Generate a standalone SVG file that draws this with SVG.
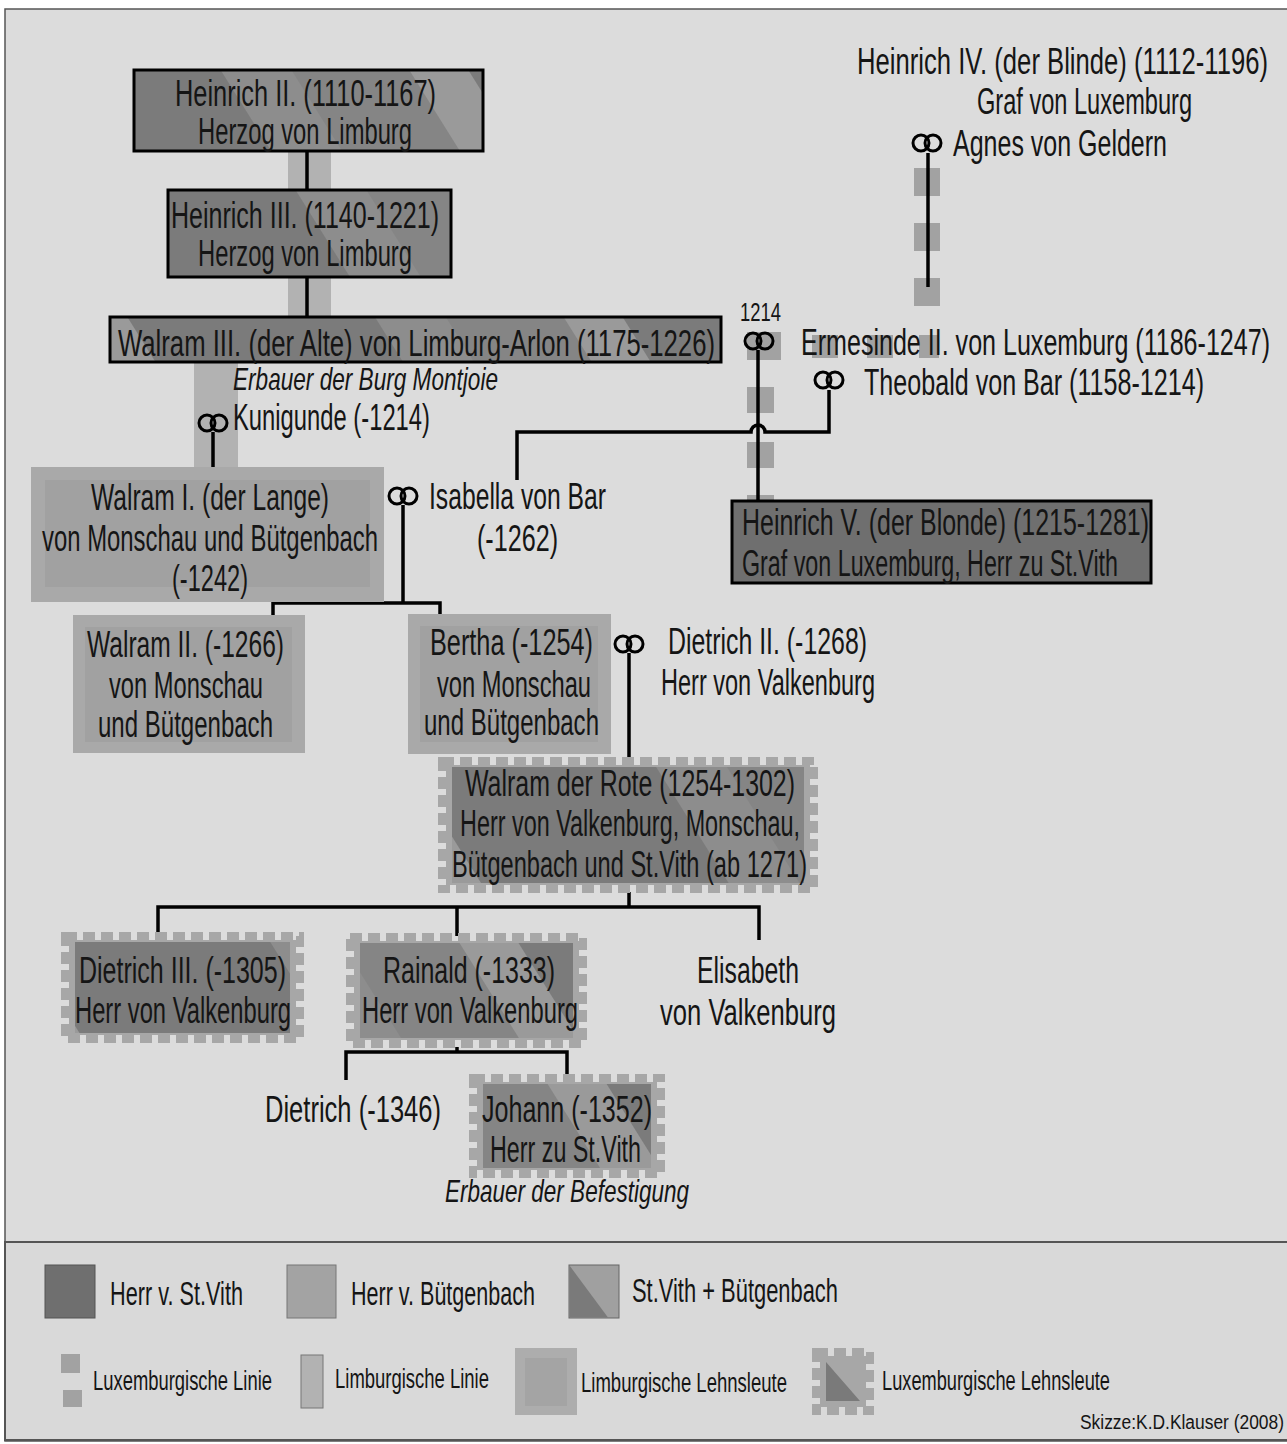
<svg xmlns="http://www.w3.org/2000/svg" width="1287" height="1444" viewBox="0 0 1287 1444">
<defs>
<style>
.t{font-family:"Liberation Sans Narrow","Liberation Sans",Arial,sans-serif;font-size:36px;fill:#151515}
.i{font-style:italic;font-size:32px}
.s25{font-size:25px}
.l1{font-size:33px}
.l2{font-size:27px}
.s20{font-size:20px}
.conn{stroke:#000;stroke-width:3.5;fill:none}
.ring{stroke:#000;stroke-width:3;fill:none}
.boxk{stroke:#000;stroke-width:3}
.teeth{fill:none;stroke:#a7a7a7;stroke-width:8;stroke-dasharray:12 6}
.band{fill:#a7a7a7}
.lux{fill:#a2a2a2}
.limb{fill:#b2b2b2}
.buet{fill:#a9a9a9}
.buetin{fill:#a1a1a1}
.vith{fill:#6f6f6f}
</style>
<pattern id="diag" patternUnits="userSpaceOnUse" width="420" height="20" patternTransform="rotate(-32)">
<rect x="0" y="0" width="420" height="20" fill="#7b7b7b"/>
<rect x="150" y="0" width="60" height="20" fill="#8d8d8d"/>
<rect x="210" y="0" width="100" height="20" fill="#858585"/>
<rect x="310" y="0" width="50" height="20" fill="#9a9a9a"/>
</pattern>
</defs>
<rect x="0" y="0" width="1287" height="1444" fill="#ffffff"/>
<rect x="5" y="9" width="1290" height="1432" fill="#dcdcdc" stroke="#555" stroke-width="1.5"/>

<g id="lines-decor">
<rect class="limb" x="288" y="151" width="43" height="40"/>
<rect class="limb" x="288" y="276" width="43" height="42"/>
<rect class="limb" x="194" y="362" width="44" height="106"/>
<rect class="lux" x="914" y="168" width="26" height="28"/>
<rect class="lux" x="914" y="223" width="26" height="28"/>
<rect class="lux" x="914" y="278" width="26" height="28"/>
<rect class="lux" x="747" y="332" width="34" height="28"/>
<rect class="lux" x="812" y="335" width="26" height="23"/>
<rect class="lux" x="867" y="335" width="26" height="23"/>
<rect class="lux" x="919" y="335" width="20" height="23"/>
<rect class="lux" x="747" y="387" width="27" height="26"/>
<rect class="lux" x="747" y="442" width="27" height="26"/>
<rect class="lux" x="747" y="495" width="27" height="8"/>
</g>

<g id="connectors">
<path class="conn" d="M307,151 V190"/>
<path class="conn" d="M307,277 V318"/>
<path class="conn" d="M213,432 V468"/>
<path class="conn" d="M928,153 V287"/>
<path class="conn" d="M758,350 V501"/>
<path class="conn" d="M517,480 V432 H751 A7,7 0 0 1 765,432 H829 V390"/>
<path class="conn" d="M403,505 V603"/>
<path class="conn" d="M273,618 V603 H440 V618"/>
<path class="conn" d="M629,653 V760"/>
<path class="conn" d="M629,892 V907"/>
<path class="conn" d="M158,936 V907 H759 V940"/>
<path class="conn" d="M457,907 V936"/>
<path class="conn" d="M457,1047 V1052"/>
<path class="conn" d="M346,1080 V1052 H567 V1080"/>
<g id="rings">
<circle class="ring" cx="207" cy="423" r="8"/><circle class="ring" cx="219" cy="423" r="8"/>
<circle class="ring" cx="921" cy="143" r="8"/><circle class="ring" cx="933" cy="143" r="8"/>
<circle class="ring" cx="753" cy="341" r="8"/><circle class="ring" cx="765" cy="341" r="8"/>
<circle class="ring" cx="823" cy="380" r="8"/><circle class="ring" cx="835" cy="380" r="8"/>
<circle class="ring" cx="397" cy="496" r="8"/><circle class="ring" cx="409" cy="496" r="8"/>
<circle class="ring" cx="623" cy="644" r="8"/><circle class="ring" cx="635" cy="644" r="8"/>
</g>
</g>

<g id="heinrich2">
<rect class="boxk" x="134" y="70" width="349" height="81" fill="url(#diag)"/>
<text class="t" x="175" y="106" textLength="261" lengthAdjust="spacingAndGlyphs">Heinrich II. (1110-1167)</text>
<text class="t" x="198" y="144" textLength="214" lengthAdjust="spacingAndGlyphs">Herzog von Limburg</text>
</g>
<g id="heinrich3">
<rect class="boxk" x="168" y="190" width="283" height="87" fill="url(#diag)"/>
<text class="t" x="171" y="228" textLength="268" lengthAdjust="spacingAndGlyphs">Heinrich III. (1140-1221)</text>
<text class="t" x="198" y="266" textLength="214" lengthAdjust="spacingAndGlyphs">Herzog von Limburg</text>
</g>
<g id="walram3">
<rect class="boxk" x="110" y="317" width="611" height="45" fill="url(#diag)"/>
<text class="t" x="118" y="356" textLength="597" lengthAdjust="spacingAndGlyphs">Walram III. (der Alte) von Limburg-Arlon (1175-1226)</text>
<text class="t i" x="233" y="390" textLength="265" lengthAdjust="spacingAndGlyphs">Erbauer der Burg Montjoie</text>
</g>
<g id="kunigunde">
<text class="t" x="233" y="430" textLength="197" lengthAdjust="spacingAndGlyphs">Kunigunde (-1214)</text>
</g>
<g id="heinrich4">
<text class="t" x="857" y="74" textLength="411" lengthAdjust="spacingAndGlyphs">Heinrich IV. (der Blinde) (1112-1196)</text>
<text class="t" x="977" y="114" textLength="215" lengthAdjust="spacingAndGlyphs">Graf von Luxemburg</text>
</g>
<g id="agnes">
<text class="t" x="953" y="156" textLength="214" lengthAdjust="spacingAndGlyphs">Agnes von Geldern</text>
</g>
<g id="ermesinde">
<text class="t s25" x="740" y="321" textLength="41" lengthAdjust="spacingAndGlyphs">1214</text>
<text class="t" x="801" y="355" textLength="469" lengthAdjust="spacingAndGlyphs">Ermesinde II. von Luxemburg (1186-1247)</text>
</g>
<g id="theobald">
<text class="t" x="864" y="395" textLength="340" lengthAdjust="spacingAndGlyphs">Theobald von Bar (1158-1214)</text>
</g>
<g id="heinrich5">
<rect class="boxk vith" x="732" y="501" width="419" height="82"/>
<text class="t" x="742" y="535" textLength="407" lengthAdjust="spacingAndGlyphs">Heinrich V. (der Blonde) (1215-1281)</text>
<text class="t" x="742" y="576" textLength="376" lengthAdjust="spacingAndGlyphs">Graf von Luxemburg, Herr zu St.Vith</text>
</g>
<g id="walram1">
<rect class="buet" x="31" y="467" width="353" height="135"/>
<rect class="buetin" x="45" y="480" width="325" height="107"/>
<text class="t" x="91" y="510" textLength="238" lengthAdjust="spacingAndGlyphs">Walram I. (der Lange)</text>
<text class="t" x="42" y="551" textLength="336" lengthAdjust="spacingAndGlyphs">von Monschau und Bütgenbach</text>
<text class="t" x="172" y="591" textLength="76" lengthAdjust="spacingAndGlyphs">(-1242)</text>
</g>
<g id="isabella">
<text class="t" x="429" y="509" textLength="177" lengthAdjust="spacingAndGlyphs">Isabella von Bar</text>
<text class="t" x="477" y="551" textLength="81" lengthAdjust="spacingAndGlyphs">(-1262)</text>
</g>
<g id="walram2">
<rect class="buet" x="73" y="615" width="232" height="138"/>
<rect class="buetin" x="85" y="627" width="207" height="115"/>
<text class="t" x="87" y="657" textLength="197" lengthAdjust="spacingAndGlyphs">Walram II. (-1266)</text>
<text class="t" x="109" y="698" textLength="154" lengthAdjust="spacingAndGlyphs">von Monschau</text>
<text class="t" x="98" y="737" textLength="175" lengthAdjust="spacingAndGlyphs">und Bütgenbach</text>
</g>
<g id="bertha">
<rect class="buet" x="408" y="614" width="203" height="140"/>
<rect class="buetin" x="420" y="626" width="178" height="116"/>
<text class="t" x="430" y="655" textLength="163" lengthAdjust="spacingAndGlyphs">Bertha (-1254)</text>
<text class="t" x="437" y="697" textLength="154" lengthAdjust="spacingAndGlyphs">von Monschau</text>
<text class="t" x="424" y="735" textLength="175" lengthAdjust="spacingAndGlyphs">und Bütgenbach</text>
</g>
<g id="dietrich2">
<text class="t" x="668" y="654" textLength="199" lengthAdjust="spacingAndGlyphs">Dietrich II. (-1268)</text>
<text class="t" x="661" y="695" textLength="214" lengthAdjust="spacingAndGlyphs">Herr von Valkenburg</text>
</g>
<g id="walramrote">
<rect class="teeth" x="442" y="761" width="372" height="128"/>
<rect class="band" x="446" y="765" width="364" height="120"/>
<rect x="452" y="767" width="352" height="116" fill="url(#diag)"/>
<text class="t" x="465" y="796" textLength="330" lengthAdjust="spacingAndGlyphs">Walram der Rote (1254-1302)</text>
<text class="t" x="460" y="836" textLength="340" lengthAdjust="spacingAndGlyphs">Herr von Valkenburg, Monschau,</text>
<text class="t" x="452" y="877" textLength="355" lengthAdjust="spacingAndGlyphs">Bütgenbach und St.Vith (ab 1271)</text>
</g>
<g id="dietrich3">
<rect class="teeth" x="65" y="936" width="235" height="103"/>
<rect class="band" x="69" y="940" width="227" height="95"/>
<rect x="75" y="942" width="215" height="91" fill="url(#diag)"/>
<text class="t" x="79" y="983" textLength="207" lengthAdjust="spacingAndGlyphs">Dietrich III. (-1305)</text>
<text class="t" x="75" y="1023" textLength="216" lengthAdjust="spacingAndGlyphs">Herr von Valkenburg</text>
</g>
<g id="rainald">
<rect class="teeth" x="350" y="937" width="233" height="107"/>
<rect class="band" x="354" y="941" width="225" height="99"/>
<rect x="360" y="943" width="213" height="95" fill="url(#diag)"/>
<text class="t" x="383" y="983" textLength="172" lengthAdjust="spacingAndGlyphs">Rainald (-1333)</text>
<text class="t" x="362" y="1023" textLength="216" lengthAdjust="spacingAndGlyphs">Herr von Valkenburg</text>
</g>
<g id="elisabeth">
<text class="t" x="697" y="983" textLength="102" lengthAdjust="spacingAndGlyphs">Elisabeth</text>
<text class="t" x="660" y="1025" textLength="176" lengthAdjust="spacingAndGlyphs">von Valkenburg</text>
</g>
<g id="dietrich1346">
<text class="t" x="265" y="1122" textLength="176" lengthAdjust="spacingAndGlyphs">Dietrich (-1346)</text>
</g>
<g id="johann">
<rect class="teeth" x="473" y="1078" width="188" height="96"/>
<rect class="band" x="477" y="1082" width="180" height="88"/>
<rect x="483" y="1084" width="168" height="84" fill="url(#diag)"/>
<text class="t" x="482" y="1122" textLength="170" lengthAdjust="spacingAndGlyphs">Johann (-1352)</text>
<text class="t" x="490" y="1162" textLength="151" lengthAdjust="spacingAndGlyphs">Herr zu St.Vith</text>
<text class="t i" x="445" y="1202" textLength="244" lengthAdjust="spacingAndGlyphs">Erbauer der Befestigung</text>
</g>

<g id="legend">
<rect x="5" y="1242" width="1290" height="198" fill="#d9d9d9" stroke="#555" stroke-width="2"/>
<rect class="vith" x="45" y="1265" width="50" height="53" stroke="#555" stroke-width="1"/>
<text class="t l1" x="110" y="1305" textLength="133" lengthAdjust="spacingAndGlyphs">Herr v. St.Vith</text>
<rect x="287" y="1265" width="49" height="53" fill="#a3a3a3" stroke="#777" stroke-width="1"/>
<text class="t l1" x="351" y="1305" textLength="184" lengthAdjust="spacingAndGlyphs">Herr v. Bütgenbach</text>
<rect x="569" y="1265" width="50" height="53" fill="#a0a0a0" stroke="#666" stroke-width="1"/>
<polygon points="569.5,1265.5 608,1317.5 569.5,1317.5" fill="#7a7a7a"/>
<text class="t l1" x="632" y="1302" textLength="206" lengthAdjust="spacingAndGlyphs">St.Vith + Bütgenbach</text>
<rect class="lux" x="61" y="1354" width="19" height="19"/>
<rect class="lux" x="63" y="1390" width="19" height="17"/>
<text class="t l2" x="93" y="1390" textLength="179" lengthAdjust="spacingAndGlyphs">Luxemburgische Linie</text>
<rect class="limb" x="301" y="1355" width="22" height="53" stroke="#777" stroke-width="1"/>
<text class="t l2" x="335" y="1388" textLength="154" lengthAdjust="spacingAndGlyphs">Limburgische Linie</text>
<rect x="515" y="1348" width="62" height="67" fill="#adadad"/>
<rect x="525" y="1358" width="42" height="48" fill="#a4a4a4"/>
<text class="t l2" x="581" y="1392" textLength="206" lengthAdjust="spacingAndGlyphs">Limburgische Lehnsleute</text>
<rect class="teeth" x="816" y="1352" width="54" height="59"/>
<rect class="band" x="820" y="1356" width="46" height="51"/>
<polygon points="826,1362 860,1401 826,1401" fill="#7a7a7a"/>
<text class="t l2" x="882" y="1390" textLength="228" lengthAdjust="spacingAndGlyphs">Luxemburgische Lehnsleute</text>
<text class="t s20" x="1080" y="1429" textLength="204" lengthAdjust="spacingAndGlyphs">Skizze:K.D.Klauser (2008)</text>
</g>
</svg>
